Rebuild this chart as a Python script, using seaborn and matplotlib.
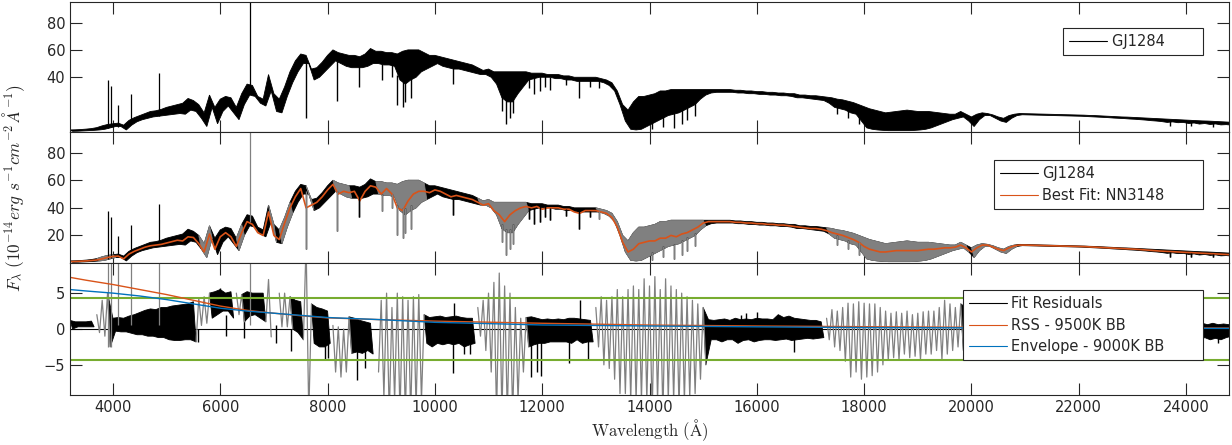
import numpy as np
import matplotlib
matplotlib.use('Agg')
import matplotlib.pyplot as plt
import seaborn as sns
from matplotlib.lines import Line2D

wave = np.arange(3200, 24801, 100)

# observed spectrum GJ1284: upper / lower edge of the dense part (1e-14 erg/s/cm2/A)
obs_hi = [1.5, 1.6, 1.8, 2.1, 2.5, 3.2, 4.5, 5.5, 6.0, 6.5,
          5.0, 8.5, 10.5, 12.0, 13.5, 15.0, 15.5, 16.5, 18.0, 19.0,
          20.0, 21.0, 24.5, 23.0, 20.0, 14.0, 27.0, 18.0, 24.0, 26.0,
          25.0, 18.0, 28.0, 35.0, 34.0, 26.0, 24.0, 42.0, 28.0, 24.0,
          33.0, 44.0, 52.0, 57.0, 56.0, 46.0, 47.0, 51.0, 56.0, 60.0,
          58, 57, 56, 56, 55, 57, 61, 59, 59, 58,
          58, 57, 59, 60, 60, 60, 58, 56, 56, 55,
          54, 53, 52, 51, 50, 49, 47, 45, 46, 44,
          44, 44, 44, 44, 44, 44, 43, 43, 43, 42,
          42, 42, 41, 41, 40, 40, 40, 40, 40, 39,
          38, 36, 30, 20, 16, 22, 26, 26, 27, 28,
          30, 30, 31, 31, 31, 31, 31, 31, 31, 31,
          31, 31, 31, 31, 30.5, 30.5, 30, 30, 29.5, 29.5,
          29, 29, 28.5, 28.5, 28, 28, 27, 27, 26.5, 26.5,
          26, 25.5, 25, 24, 23.5, 22.5, 21.5, 20, 18.5, 17,
          16, 15, 14, 14.5, 15, 15.5, 16, 15.5, 15, 15,
          15, 14.5, 14, 13.5, 13, 13, 15, 13, 11, 13,
          14, 13.5, 12.5, 11, 10, 12, 13, 13.5, 13.4, 13.3,
          13.2, 13.1, 13.0, 12.9, 12.8, 12.7, 12.6, 12.5, 12.4, 12.3,
          12.1, 12.0, 11.8, 11.6, 11.4, 11.2, 11.0, 10.9, 10.7, 10.5,
          10.3, 10.1, 9.9, 9.7, 9.5, 9.3, 9.1, 8.9, 8.7, 8.5,
          8.3, 8.1, 8.0, 7.8, 7.6, 7.4, 7.2]
obs_lo = [0.5, 0.6, 0.8, 1.0, 1.2, 1.5, 2.0, 3.0, 4.0, 4.0,
          1.5, 5.0, 7.5, 9.0, 10.0, 11.0, 11.5, 12.0, 12.5, 13.0,
          13.5, 13.0, 16.0, 15.0, 10.0, 4.0, 18.0, 6.0, 15.0, 19.0,
          14.0, 9.0, 20.0, 27.0, 26.0, 21.0, 19.0, 30.0, 15.0, 14.0,
          26.0, 36.0, 44.0, 50.0, 50.0, 38.0, 40.0, 44.0, 48.0, 52.0,
          50, 48, 47, 47, 47, 48, 50, 50, 49, 49,
          48, 38, 35, 38, 40, 44, 46, 48, 50, 48,
          47, 46, 46, 45, 44, 43, 42, 42, 40, 35,
          25, 22, 22, 28, 33, 38, 39, 40, 40, 40,
          39, 39, 38, 38, 37, 37, 37, 37, 37, 36,
          34, 30, 20, 8, 2, 1.5, 2, 4, 6, 8,
          10, 12, 13, 14, 16, 18, 20, 24, 27, 28.5,
          29, 29, 29, 29, 28.5, 28.5, 28, 28, 27.5, 27.5,
          27, 27, 26.5, 26.5, 26, 25, 25, 24.5, 24, 23.5,
          23, 21, 18, 17, 16, 14, 13, 8, 3, 2,
          1.5, 1.2, 1.0, 1.0, 1.0, 1.0, 1.0, 1.2, 1.5, 2,
          3, 4.5, 6, 7.5, 9, 10, 11, 8, 4, 9,
          12, 12, 10, 8, 7, 10, 12, 12.6, 12.5, 12.4,
          12.3, 12.2, 12.1, 12.0, 11.9, 11.8, 11.7, 11.6, 11.5, 11.3,
          11.1, 10.9, 10.7, 10.5, 10.2, 10.0, 9.8, 9.5, 9.3, 9.0,
          8.7, 8.3, 8.0, 7.6, 7.0, 7.4, 6.8, 7.0, 6.2, 6.6,
          5.8, 6.2, 5.5, 5.9, 5.2, 5.4, 5.0]

# narrow absorption lines: wavelength, level they start from, depth reached
abs_wave = [7600, 8180, 8580, 9020, 9200, 9300, 9400, 9450, 9550, 10330,
            11250, 11320, 11400, 11450, 11750, 11850, 11950, 12050, 12150, 12450,
            12690, 12900, 13050, 14050, 14250, 14450, 14600, 14700, 14850, 17500,
            17700, 17900, 23700, 24100, 24500]
abs_top = [52, 52, 48, 50, 50, 42, 40, 40, 42, 48,
           28, 25, 25, 28, 40, 40, 41, 41, 40, 39,
           38, 38, 38, 8, 12, 14, 17, 19, 22, 20,
           17, 15, 7.8, 7.2, 6.5]
abs_depth = [10, 23, 33, 38, 40, 20, 18, 22, 25, 35,
             15, 6, 10, 14, 32, 28, 30, 33, 31, 34,
             25, 33, 32, 2, 4, 3, 6, 9, 12, 13,
             10, 6, 4.5, 4.5, 4.0]

# best fit model NN3148
fit_flux = [1.0, 1.1, 1.3, 1.5, 1.8, 2.2, 3.0, 4.0, 4.8, 5.0,
            3.0, 6.5, 8.5, 10.0, 11.5, 12.5, 13.0, 13.5, 14.5, 15.5,
            16.5, 16.0, 19.0, 18.5, 14.0, 8.0, 21.0, 10.0, 19.0, 22.0,
            19.0, 12.0, 22.0, 30.0, 28.0, 22.0, 20.0, 37.0, 20.0, 17.0,
            29.0, 40.0, 48.0, 54.0, 40.0, 42.0, 44.0, 48.0, 53.0, 57.0,
            50, 52, 51, 52, 45, 52, 56, 55, 50, 54,
            50, 40, 38, 45, 50, 52, 52, 51, 53, 52,
            50, 48, 49, 48, 47, 46, 44, 42, 43, 38,
            35, 30, 35, 38, 40, 41, 40, 41, 39, 40,
            40, 40, 39, 39, 37, 36, 38, 38, 38, 37,
            36, 33, 26, 15, 8, 10, 14, 15, 16, 16,
            18, 18, 20, 19, 21, 22, 24, 26, 29, 30,
            30, 30, 30, 30, 29.5, 29.5, 29, 29, 28.5, 28.5,
            28, 28, 27.5, 27.5, 27, 26.5, 26, 25.5, 25, 25,
            24.5, 23.5, 22, 21, 20, 18.5, 17, 15, 12, 10,
            9, 8, 8, 8.5, 9, 9, 9, 9, 9, 9.5,
            10, 10, 10.5, 11, 11, 11.5, 13, 11, 8, 11,
            13, 13, 11.5, 10, 9, 11, 12.5, 13, 13, 12.9,
            12.8, 12.7, 12.6, 12.5, 12.4, 12.3, 12.2, 12.1, 12.0, 11.9,
            11.7, 11.5, 11.3, 11.1, 10.9, 10.7, 10.5, 10.3, 10.1, 9.9,
            9.6, 9.3, 9.0, 8.7, 8.5, 8.3, 8.1, 7.9, 7.7, 7.5,
            7.3, 7.1, 6.9, 6.7, 6.5, 6.3, 6.1]

# fit residuals, upper / lower edge
res_hi = [1.2, 1.0, 1.0, 1.0, 1.1, 2.0, 4.0, 5.0, 1.5, 1.6,
          1.5, 1.8, 2.0, 2.3, 2.6, 2.8, 2.7, 3.0, 3.0, 3.2,
          3.3, 3.4, 3.5, 3.8, 4.3, 4.5, 5.0, 5.2, 5.5, 5.0,
          5.2, 5.0, 4.8, 5.2, 5.0, 5.0, 5.0, 6.9, 5.0, 5.0,
          5.0, 4.5, 4.0, 3.8, 12, 3.5, 3.0, 2.8, 2.5, 0.5,
          0.3, 0.0, 1.7, 1.5, 1.2, 1.0, 0.8, 2.0, 4.0, 5.0,
          3.0, 5.0, 4.5, 4.0, 4.5, 4.8, 2.0, 1.6, 1.7, 1.8,
          1.6, 1.7, 1.8, 1.6, 1.5, 1.5, 3.0, 4.0, 5.0, 6.5,
          7.8, 6.0, 5.0, 3.0, 1.5, 1.6, 1.7, 1.5, 1.3, 1.4,
          1.3, 1.4, 1.3, 1.5, 1.5, 1.4, 1.3, 1.2, 3.0, 4.5,
          4.0, 4.5, 5.5, 4.5, 5.5, 6.0, 5.5, 7.0, 6.0, 7.3,
          5.5, 7.0, 6.0, 5.5, 5.0, 4.5, 4.0, 3.5, 3.0, 1.3,
          1.2, 1.3, 1.4, 1.2, 1.5, 1.3, 1.4, 1.3, 1.5, 1.4,
          1.4, 1.3, 2.0, 1.6, 1.8, 1.5, 1.4, 1.3, 1.2, 1.2,
          1.0, 1.5, 2.7, 2.5, 3.0, 3.6, 3.5, 3.8, 3.6, 3.5,
          3.5, 3.0, 2.5, 2.2, 2.4, 2.2, 2.5, 2.0, 2.2, 2.4,
          2.5, 2.5, 3.0, 4.0, 3.5, 3.0, 3.5, 3.0, 2.0, 2.5,
          2.5, 2.0, 1.8, 2.0, 1.8, 1.2, 1.0, 1.0, 1.0, 1.0,
          1.0, 1.0, 1.0, 1.0, 1.0, 1.0, 1.0, 1.0, 1.0, 1.0,
          1.0, 1.0, 1.0, 1.0, 1.0, 1.0, 1.0, 1.0, 1.0, 1.0,
          1.0, 1.0, 1.0, 1.0, 1.0, 1.0, 1.0, 1.0, 1.0, 1.0,
          0.8, 0.8, 0.6, 0.8, 0.6, 0.7, 0.6]
res_lo = [0.0, 0.3, 0.3, 0.3, 0.3, -0.5, -1.0, -2.5, -0.3, -0.4,
          -0.4, -0.6, -0.8, -0.8, -1.0, -1.0, -1.2, -1.2, -1.5, -1.6,
          -1.6, -1.5, -1.5, -1.8, 0.5, 0.8, 1.5, 2.0, 2.5, 2.5,
          1.5, 2.0, 1.0, 1.8, 2.0, 1.5, 1.0, -1.1, 0.5, 0.3,
          0.3, 0.0, -0.5, -1.5, -12, -2.0, -2.5, -2.5, -2.0, -6.0,
          -6.7, -6.0, -3.4, -3.2, -3.4, -3.0, -3.5, -6.0, -9.5, -12,
          -10, -12, -12, -12, -11, -10, -2.0, -2.5, -2.0, -2.2,
          -2.0, -2.2, -2.0, -2.5, -2.2, -2.0, -1.0, -3.0, -6.0, -12,
          -12, -12, -12, -10, -6.0, -2.5, -2.2, -2.0, -2.0, -1.8,
          -1.8, -1.8, -1.8, -2.0, -1.5, -2.0, -1.8, -1.8, -2.5, -5.0,
          -5.5, -7.0, -9, -9, -10, -10, -10, -10, -12, -10,
          -12, -10, -10, -11, -10, -9.5, -9, -7, -5, -1.5,
          -1.5, -1.8, -1.5, -1.5, -2.0, -1.6, -1.5, -1.8, -1.6, -1.5,
          -1.5, -1.6, -1.5, -1.4, -1.6, -1.5, -1.4, -1.3, -1.4, -1.3,
          -1.2, -1.5, -2.5, -3.0, -4.5, -6.7, -6.0, -7.0, -6.7, -6.5,
          -6.0, -5.0, -4.3, -4.0, -4.3, -3.5, -4.0, -3.8, -4.3, -3.5,
          -3.5, -3.0, -4.3, -3.5, -3.0, -2.5, -3.0, -2.0, -2.5, -2.0,
          -2.0, -2.0, -1.8, -2.0, -2.0, -1.2, -1.0, -1.0, -1.0, -1.0,
          -1.0, -1.0, -1.0, -1.0, -1.0, -1.0, -1.0, -1.0, -1.0, -1.0,
          -1.0, -1.0, -1.0, -1.0, -1.0, -1.0, -1.0, -1.0, -1.0, -1.0,
          -1.2, -1.2, -1.2, -1.2, -1.2, -1.2, -1.2, -1.2, -1.2, -1.2,
          -1.5, -1.2, -1.5, -1.3, -1.5, -1.2, -1.0]

# single residual spikes: wavelength, start, end
rsp_wave = [5590, 6000, 6110, 6450, 7040, 7320, 7950, 8000, 8550, 8700,
            10330, 10350, 10550, 10650, 11800, 11900, 11970, 12500, 12700, 12850,
            15700, 15800, 16000, 16700, 24600]
rsp_start = [0, 3, 2, 2, 0.5, 0, -1, -1, -2, -2,
             -1, 1, -1, -1, -1, -1, -1, -1, 1, -1,
             1, 1, 1, -0.5, -0.5]
rsp_end = [-1.8, 5.7, -1.0, -1.2, -2.0, -3.0, -4.3, -4.0, -7.1, -5.5,
           -6.2, 3.6, -3.5, -3.5, -6.7, -6.0, -6.5, -4.8, 4.1, -4.3,
           2.0, 2.2, 2.4, -3.2, -2.0]

# Balmer emission lines
em_wave = [3905, 3960, 4095, 4335, 4855, 6555]
em_base = [3.0, 3.5, 4.0, 6.0, 12.0, 30.0]
em_peak = [38, 33.5, 19.5, 27.5, 43, 120]
em_res_lo = [-2.5, -2.5, 0.5, 0.5, 0.5, 0.5]

# wavelength ranges excluded from the fit (drawn grey)
mask_start = [3700, 5570, 6330, 6870, 7110, 7580, 8100, 8940, 10800, 13020, 17300, 19980]
mask_end = [3950, 5800, 6420, 6960, 7340, 7710, 8420, 9815, 11720, 15030, 19850, 20800]

# blackbody curves in the residual panel
bb_wave = [3200, 3500, 4000, 4500, 5000, 5500, 6000, 6500, 7000, 7500, 8000,
           9000, 10000, 11000, 12000, 14000, 16000, 18000, 20000, 22000, 24800]
rss_bb = [7.2, 6.8, 6.2, 5.5, 4.8, 4.0, 3.2, 2.6, 2.2, 1.85, 1.55,
          1.3, 1.1, 0.95, 0.8, 0.55, 0.42, 0.32, 0.24, 0.18, 0.13]
env_bb = [5.5, 5.3, 5.0, 4.6, 4.1, 3.5, 2.9, 2.5, 2.2, 1.9, 1.6,
          1.3, 0.93, 0.75, 0.56, 0.42, 0.3, 0.2, 0.16, 0.12, 0.08]
limit = 4.35

black, grey = '#000000', '#808080'
orange, blue, green = '#D95319', '#0072BD', '#77AC30'
axcol = '#262626'

sns.set_theme(style='ticks')
plt.rcParams['font.family'] = ['DejaVu Sans']
plt.rcParams['mathtext.fontset'] = 'cm'

# fitted ranges = gaps between the excluded ones
fit_start = [3200] + mask_end
fit_end = mask_start + [24850]


def in_mask(x):
    x = np.asarray(x)
    return np.any([(x >= a) & (x <= b) for a, b in zip(mask_start, mask_end)], axis=0)


def band(ax, hi, lo, color, starts=(3200,), ends=(24850,), grow=50):
    # dense part of a spectrum: upper edge at the grid, lower edge half a step later
    hi, lo = np.asarray(hi), np.asarray(lo)
    for a, b in zip(starts, ends):
        sel = (wave >= a - 50) & (wave <= b - 50 + grow)
        if sel.sum() < 2:
            continue
        xs = np.concatenate([wave[sel], (wave[sel] + 50)[::-1]])
        ys = np.concatenate([hi[sel], lo[sel][::-1]])
        ax.fill(xs, ys, color=color, lw=0.6)


def wiggle(ax, hi, lo, color, starts, ends):
    # strongly oscillating part: line alternating between upper and lower edge
    x = np.column_stack([wave, wave + 50]).ravel()
    y = np.column_stack([hi, lo]).ravel()
    for a, b in zip(starts, ends):
        sel = (x >= a - 30) & (x <= b + 30)
        sns.lineplot(x=x[sel], y=y[sel], sort=False, estimator=None,
                     color=color, lw=0.9, ax=ax)


def spikes(ax, x, y0, y1, masked_grey=False):
    x, y0, y1 = map(np.asarray, (x, y0, y1))
    m = in_mask(x) if masked_grey else np.zeros(len(x), bool)
    ax.vlines(x[~m], y0[~m], y1[~m], color=black, lw=1.0)
    if m.any():
        ax.vlines(x[m], y0[m], y1[m], color=grey, lw=1.0)


fig = plt.figure(figsize=(12.32, 4.45), dpi=100)
L, W = 70 / 1232, (1229 - 70) / 1232
ax1 = fig.add_axes([L, 1 - 132 / 445, W, 130 / 445])
ax2 = fig.add_axes([L, 1 - 263 / 445, W, 131 / 445])
ax3 = fig.add_axes([L, 1 - 395 / 445, W, 132 / 445])

# top: observed spectrum
band(ax1, obs_hi, obs_lo, black)
spikes(ax1, abs_wave, abs_top, abs_depth)
ax1.vlines(em_wave, em_base, em_peak, color=black, lw=0.9)

# middle: observed + best fit, excluded ranges in grey
band(ax2, obs_hi, obs_lo, black)
spikes(ax2, abs_wave, abs_top, abs_depth)
ax2.vlines(em_wave[:-1], em_base[:-1], em_peak[:-1], color=black, lw=0.9)
sns.lineplot(x=wave, y=fit_flux, color=orange, lw=1.2, ax=ax2)
band(ax2, obs_hi, obs_lo, grey, mask_start, mask_end, grow=100)
spikes(ax2, abs_wave, abs_top, abs_depth, masked_grey=True)
ax2.vlines(em_wave[-1:], em_base[-1:], em_peak[-1:], color=grey, lw=0.9)

# bottom: residuals
ax3.axhline(0, color=black, lw=0.8)
band(ax3, res_hi, res_lo, black, fit_start, fit_end, grow=0)
spikes(ax3, rsp_wave, rsp_start, rsp_end)
wiggle(ax3, res_hi, res_lo, grey, mask_start, mask_end)
ax3.vlines(em_wave, em_res_lo, 12, color=grey, lw=0.9)
ax3.axhline(limit, color=green, lw=1.5)
ax3.axhline(-limit, color=green, lw=1.5)
sns.lineplot(x=bb_wave, y=rss_bb, color=orange, lw=1.0, ax=ax3)
sns.lineplot(x=bb_wave, y=env_bb, color=blue, lw=1.0, ax=ax3)

for ax in (ax1, ax2, ax3):
    ax.set_xlim(3200, 24800)
    ax.set_xticks(range(4000, 24001, 2000))
    ax.tick_params(direction='in', length=8.5, width=0.8, top=True, right=True,
                   labelsize=10.5, colors=axcol)
    for s in ax.spines.values():
        s.set_color(axcol)
        s.set_linewidth(0.8)
    ax.set_xlabel('')
    ax.set_ylabel('')

ax1.set_ylim(0, 95)
ax1.set_yticks([40, 60, 80])
ax2.set_ylim(0, 95)
ax2.set_yticks([20, 40, 60, 80])
ax3.set_ylim(-9.2, 9.2)
ax3.set_yticks([-5, 0, 5])
ax1.tick_params(labelbottom=False)
ax2.tick_params(labelbottom=False)

pad = '\u00a0' * 7
leg_kw = dict(loc='upper right', fontsize=10.5, frameon=True, fancybox=False,
              edgecolor=axcol, framealpha=1, borderaxespad=0, handlelength=2.6,
              handletextpad=0.3, borderpad=0.42, labelspacing=0.45)
lg = ax1.legend([Line2D([], [], color=black, lw=0.8)], ['GJ1284' + pad],
                bbox_to_anchor=(0.9775, 0.80), **leg_kw)
lg.get_frame().set_linewidth(0.8)
lg = ax2.legend([Line2D([], [], color=black, lw=0.8), Line2D([], [], color=orange, lw=0.8)],
                ['GJ1284', 'Best Fit: NN3148' + pad],
                bbox_to_anchor=(0.9775, 0.786), **leg_kw)
lg.get_frame().set_linewidth(0.8)
lg = ax3.legend([Line2D([], [], color=black, lw=0.8), Line2D([], [], color=orange, lw=0.8),
                 Line2D([], [], color=blue, lw=0.8)],
                ['Fit Residuals', 'RSS - 9500K BB', 'Envelope - 9000K BB' + pad],
                bbox_to_anchor=(0.9775, 0.795), **leg_kw)
lg.get_frame().set_linewidth(0.8)

ax3.set_xlabel(r'$\mathrm{Wavelength\ (\AA)}$', fontsize=12, color=axcol, labelpad=2)
fig.text(0.011, 0.578, r'$F_\lambda\ (10^{-14} erg\ s^{-1} cm^{-2}\,\AA^{-1})$',
         rotation=90, ha='center', va='center', fontsize=12.5, color=axcol)

fig.savefig('out.png', dpi=100)
